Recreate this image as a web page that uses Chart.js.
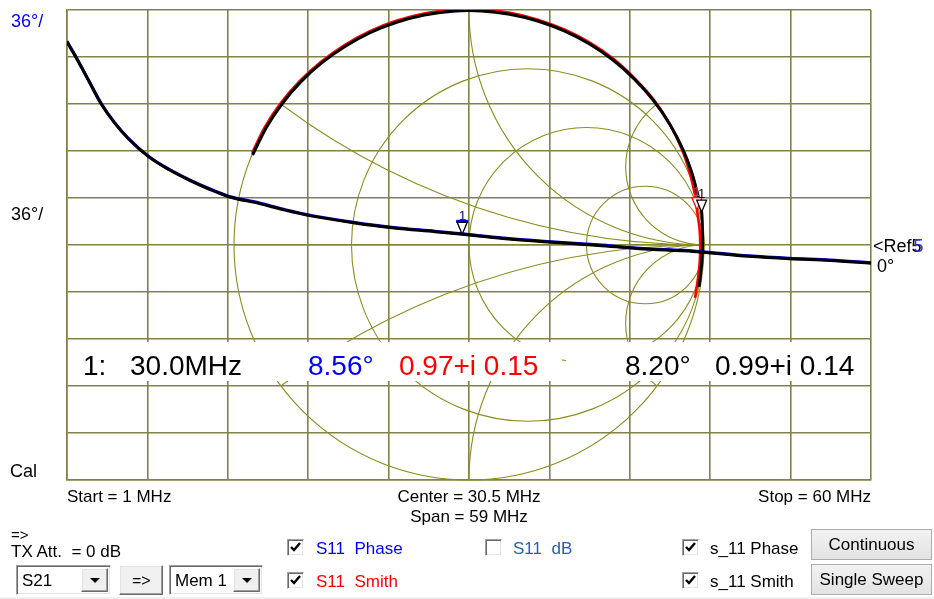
<!DOCTYPE html>
<html>
<head>
<meta charset="utf-8">
<script src="https://cdn.jsdelivr.net/npm/chart.js@4.4.1/dist/chart.umd.min.js"></script>
<style>
  html, body { margin: 0; padding: 0; background: #fff; }
  body { width: 934px; height: 599px; position: relative; overflow: hidden;
         font-family: "Liberation Sans", Arial, sans-serif; }
  #plot { position: absolute; left: 0; top: 0; }
  .t { position: absolute; font-size: 17px; line-height: 17px; white-space: pre; color: #000; }
  .sunken { position: absolute; box-sizing: border-box; background: #fff;
            border: 1px solid; border-color: #a0a0a0 #fff #fff #a0a0a0;
            box-shadow: inset 1px 1px 0 #696969, inset -1px -1px 0 #e3e3e3; }
  .raised { position: absolute; box-sizing: border-box; background: #f0f0f0;
            border: 1px solid; border-color: #fff #696969 #696969 #fff;
            box-shadow: inset -1px -1px 0 #a0a0a0, inset 1px 1px 0 #e3e3e3; }
  .arrow { position: absolute; left: 50%; top: 50%; margin-left: -5px; margin-top: -2px; width: 0; height: 0;
           border-left: 5px solid transparent; border-right: 5px solid transparent; border-top: 5px solid #000; }
  .cb { position: absolute; width: 17px; height: 17px; }
  .btn { position: absolute; box-sizing: border-box; border: 1px solid #adadad;
         background: linear-gradient(#f2f2f2, #e3e3e3); font-size: 17px; line-height: 17px;
         text-align: center; color: #000; }
</style>
</head>
<body>
<canvas id="plot" width="934" height="599"></canvas>

<!-- control strip under the plot -->
<div class="t" style="left:11px;top:526px;font-size:15px">=&gt;</div>
<div class="t" style="left:11px;top:543px">TX Att.  = 0 dB</div>

<div class="sunken" style="left:16px;top:565px;width:95px;height:30px">
  <div class="t" style="left:5px;top:6px">S21</div>
  <div class="raised" style="left:64px;top:2px;width:27px;height:24px"><div class="arrow"></div></div>
</div>
<div class="raised" style="left:119px;top:565px;width:44px;height:30px">
  <div class="t" style="left:12px;top:6px;font-size:16px">=&gt;</div>
</div>
<div class="sunken" style="left:169px;top:565px;width:94px;height:30px">
  <div class="t" style="left:5px;top:6px">Mem 1</div>
  <div class="raised" style="left:63px;top:2px;width:27px;height:24px"><div class="arrow"></div></div>
</div>

<div class="sunken cb" style="left:287px;top:539px">
  <svg width="15" height="15" style="position:absolute;left:0;top:0"><path d="M3 7 L6 10 L12 3" stroke="#000" stroke-width="2.4" fill="none"/></svg>
</div>
<div class="t" style="left:316px;top:540px;color:#0000ff">S11  Phase</div>
<div class="sunken cb" style="left:287px;top:572px">
  <svg width="15" height="15" style="position:absolute;left:0;top:0"><path d="M3 7 L6 10 L12 3" stroke="#000" stroke-width="2.4" fill="none"/></svg>
</div>
<div class="t" style="left:316px;top:573px;color:#ff0000">S11  Smith</div>

<div class="sunken cb" style="left:485px;top:539px"></div>
<div class="t" style="left:513px;top:540px;color:#2a5db0">S11  dB</div>

<div class="sunken cb" style="left:682px;top:539px">
  <svg width="15" height="15" style="position:absolute;left:0;top:0"><path d="M3 7 L6 10 L12 3" stroke="#000" stroke-width="2.4" fill="none"/></svg>
</div>
<div class="t" style="left:710px;top:540px">s_11 Phase</div>
<div class="sunken cb" style="left:682px;top:572px">
  <svg width="15" height="15" style="position:absolute;left:0;top:0"><path d="M3 7 L6 10 L12 3" stroke="#000" stroke-width="2.4" fill="none"/></svg>
</div>
<div class="t" style="left:710px;top:573px">s_11 Smith</div>

<div class="btn" style="left:811px;top:529px;width:121px;height:31px;padding-top:6px">Continuous</div>
<div class="btn" style="left:811px;top:564px;width:121px;height:31px;padding-top:6px">Single Sweep</div>
<div style="position:absolute;left:0;top:597px;width:934px;height:2px;background:#f0f0f0"></div>

<script>
// Sweep: 1 MHz .. 60 MHz, linear
const startMHz = 1;
const stopMHz = 60;

// Phase traces (degrees), live S11 and stored memory s_11
const freqMHz     = [1, 1.5, 2.5, 3.5, 4.5, 5.5, 7, 8.5, 10, 11.5, 13, 15, 17, 19, 22, 25, 28, 30, 33, 36, 40, 43, 47, 51, 54, 57, 60];
const s11PhaseDeg = [156, 147, 128, 108.6, 93.7, 81.8, 67.9, 58, 49.9, 42.9, 37, 32.5, 27.1, 22.5, 17.5, 13.4, 10.6, 8.56, 5.4, 2.9, 0.1, -2.5, -4.6, -8.3, -10.2, -11.5, -13.6];
const memPhaseDeg = [155.7, 146.6, 127.6, 108.2, 93.3, 81.4, 67.5, 57.6, 49.5, 42.5, 36.6, 32.1, 26.7, 22.1, 17.1, 13.0, 10.2, 8.20, 5.0, 2.5, -0.3, -2.8, -4.9, -8.6, -10.5, -11.8, -13.9];

// Smith traces (reflection coefficient, real / imaginary), in sweep order
const s11SmithRe = [-0.923, -0.869, -0.801, -0.721, -0.631, -0.531, -0.424, -0.310, -0.191, -0.070, 0.052, 0.174, 0.293, 0.408, 0.516, 0.617, 0.707, 0.788, 0.855, 0.907, 0.940, 0.963, 0.970, 0.981, 0.984, 0.982, 0.975, 0.962];
const s11SmithIm = [0.392, 0.502, 0.604, 0.697, 0.779, 0.850, 0.909, 0.954, 0.985, 1.000, 1.001, 0.988, 0.959, 0.916, 0.860, 0.790, 0.707, 0.616, 0.513, 0.404, 0.305, 0.205, 0.150, 0.069, 0.000, -0.069, -0.137, -0.225];
const memSmithRe = [-0.921, -0.863, -0.796, -0.717, -0.627, -0.528, -0.421, -0.308, -0.190, -0.070, 0.052, 0.173, 0.292, 0.405, 0.513, 0.614, 0.705, 0.786, 0.855, 0.911, 0.948, 0.975, 0.990, 0.993, 0.994, 0.991, 0.984, 0.979];
const memSmithIm = [0.383, 0.499, 0.600, 0.693, 0.775, 0.845, 0.904, 0.948, 0.979, 0.995, 0.996, 0.982, 0.953, 0.911, 0.855, 0.786, 0.705, 0.614, 0.513, 0.405, 0.308, 0.207, 0.140, 0.069, 0.000, -0.069, -0.138, -0.178];

// Marker 1 readout
const markerFreqMHz = [30.0];
const markerS11Phase = [8.56];
const markerMemPhase = [8.20];
const markerS11Re = [0.97];
const markerS11Im = [0.15];
const markerMemRe = [0.99];
const markerMemIm = [0.14];

// Phase scale: 36 deg per division, reference 0 deg at division 5
const degPerDiv = 36;
const refDiv = 5;
const refDeg = 0;
const divisions = 10;

// Smith chart grid: constant resistance and reactance circles
const smithR = [0, 1 / 3, 1, 3];
const smithX = [1 / 3, 1, 3];

const gridColor = 'rgb(130,130,72)';
const smithColor = 'rgb(140,140,30)';
const FONT = '"Liberation Sans", Arial, sans-serif';

const phaseMin = refDeg - refDiv * degPerDiv;
const phaseMax = refDeg + (divisions - refDiv) * degPerDiv;
const smithHalfWidth = 804 / 470;

const pts = (xs, ys) => xs.map((x, i) => ({ x, y: ys[i] }));

function fmt2(v) { return v.toFixed(2); }

function triangle(ctx, x, y, color, topBar) {
  ctx.save();
  ctx.beginPath();
  ctx.moveTo(x, y);
  ctx.lineTo(x - 5, y - 12);
  ctx.lineTo(x + 5, y - 12);
  ctx.closePath();
  ctx.fillStyle = '#fff';
  ctx.fill();
  ctx.lineWidth = 1.2;
  ctx.strokeStyle = color;
  ctx.stroke();
  if (topBar) {
    ctx.fillStyle = color;
    ctx.fillRect(x - 6, y - 14, 12, 3);
  }
  ctx.restore();
}

function markerLabel(ctx, x, y, color) {
  ctx.save();
  ctx.font = '13px ' + FONT;
  ctx.fillStyle = color;
  ctx.textAlign = 'center';
  ctx.textBaseline = 'alphabetic';
  ctx.fillText('1', x, y - 14);
  ctx.restore();
}

const smithGrid = {
  id: 'smithGrid',
  beforeDatasetsDraw(chart) {
    const { ctx, chartArea: a, scales } = chart;
    const sx = scales.x2, sy = scales.y2;
    const cx = sx.getPixelForValue(0), cy = sy.getPixelForValue(0);
    const R = sx.getPixelForValue(1) - cx;
    ctx.save();
    ctx.strokeStyle = smithColor;
    ctx.lineWidth = 1.1;
    smithR.forEach(r => {
      ctx.beginPath();
      ctx.arc(sx.getPixelForValue(r / (1 + r)), cy, R / (1 + r), 0, 2 * Math.PI);
      ctx.stroke();
    });
    ctx.beginPath();
    ctx.arc(cx, cy, R, 0, 2 * Math.PI);
    ctx.clip();
    smithX.forEach(xv => [xv, -xv].forEach(v => {
      ctx.beginPath();
      ctx.arc(sx.getPixelForValue(1), sy.getPixelForValue(1 / v), R / xv, 0, 2 * Math.PI);
      ctx.stroke();
    }));
    ctx.beginPath();
    ctx.moveTo(cx - R, cy);
    ctx.lineTo(cx + R, cy);
    ctx.stroke();
    ctx.restore();

    // readout band
    ctx.save();
    ctx.fillStyle = '#fff';
    ctx.fillRect(a.left + 1, a.top + 332, 494, 39);
    ctx.fillRect(a.left + 499, a.top + 332, a.width - 500, 39);
    ctx.restore();
  },
  afterDatasetsDraw(chart) {
    const { ctx, chartArea: a, scales } = chart;
    const { x, y, x2, y2 } = scales;

    // markers on phase traces
    const mx = x.getPixelForValue(markerFreqMHz[0]);
    triangle(ctx, mx, y.getPixelForValue(markerS11Phase[0]), '#0000ff', true);
    triangle(ctx, mx, y.getPixelForValue(markerMemPhase[0]), '#000', false);
    markerLabel(ctx, mx, y.getPixelForValue(markerS11Phase[0]), '#e07070');
    markerLabel(ctx, mx + 0.5, y.getPixelForValue(markerS11Phase[0]), '#1a2a9a');

    // markers on Smith traces
    const rx = x2.getPixelForValue(markerS11Re[0]), ry = y2.getPixelForValue(markerS11Im[0]);
    const bx = x2.getPixelForValue(markerMemRe[0]), by = y2.getPixelForValue(markerMemIm[0]);
    triangle(ctx, rx, ry, '#ff0000', false);
    markerLabel(ctx, rx, ry, '#ff4040');
    triangle(ctx, bx, by, '#000', false);
    markerLabel(ctx, bx, by, '#000');

    // readout text
    ctx.save();
    ctx.font = '28px ' + FONT;
    ctx.textBaseline = 'alphabetic';
    const base = a.top + 365;
    ctx.fillStyle = '#000';
    ctx.fillText('1:', a.left + 16, base);
    ctx.fillText(markerFreqMHz[0].toFixed(1) + 'MHz', a.left + 63, base);
    ctx.fillStyle = '#0000ff';
    ctx.fillText(fmt2(markerS11Phase[0]) + '°', a.left + 241, base);
    ctx.fillStyle = '#ff0000';
    ctx.fillText(fmt2(markerS11Re[0]) + '+i ' + fmt2(markerS11Im[0]), a.left + 332, base);
    ctx.fillStyle = '#000';
    ctx.fillText(fmt2(markerMemPhase[0]) + '°', a.left + 558, base);
    ctx.fillText(fmt2(markerMemRe[0]) + '+i ' + fmt2(markerMemIm[0]), a.left + 648, base);
    ctx.restore();

    // scale annotations
    ctx.save();
    ctx.font = '18px ' + FONT;
    ctx.textBaseline = 'alphabetic';
    ctx.fillStyle = '#0000ff';
    ctx.fillText(degPerDiv + '°/', 11, a.top + 17);
    ctx.fillStyle = '#000';
    ctx.fillText(degPerDiv + '°/', 11, a.top + 210);
    ctx.fillText('Cal', 10, a.bottom - 3);
    const refY = y.getPixelForValue(refDeg);
    ctx.fillText('<Ref' + refDiv, a.right + 2, refY + 7);
    ctx.fillStyle = '#3030ff';
    ctx.fillText(String(refDiv), a.right + 2 + ctx.measureText('<Ref').width + 2, refY + 7);
    ctx.fillStyle = '#000';
    ctx.fillText(refDeg + '°', a.right + 6, refY + 27);

    ctx.font = '17px ' + FONT;
    ctx.fillText('Start = ' + startMHz + ' MHz', a.left, a.bottom + 22);
    ctx.textAlign = 'center';
    const mid = (a.left + a.right) / 2;
    ctx.fillText('Center = ' + ((startMHz + stopMHz) / 2).toFixed(1) + ' MHz', mid, a.bottom + 22);
    ctx.fillText('Span = ' + (stopMHz - startMHz) + ' MHz', mid, a.bottom + 42);
    ctx.textAlign = 'right';
    ctx.fillText('Stop = ' + stopMHz + ' MHz', a.right, a.bottom + 22);
    ctx.restore();
  }
};

const gridOpts = { color: gridColor, lineWidth: 1.6, drawTicks: false };
const borderOpts = { color: gridColor, width: 1.6 };

new Chart(document.getElementById('plot'), {
  type: 'scatter',
  data: {
    datasets: [
      { label: 's_11 Phase', data: pts(freqMHz, memPhaseDeg), xAxisID: 'x', yAxisID: 'y',
        showLine: true, borderColor: '#000', borderWidth: 3, pointRadius: 0,
        cubicInterpolationMode: 'monotone', order: 1 },
      { label: 'S11 Phase', data: pts(freqMHz, s11PhaseDeg), xAxisID: 'x', yAxisID: 'y',
        showLine: true, borderColor: '#0000ff', borderWidth: 3, pointRadius: 0,
        cubicInterpolationMode: 'monotone', order: 2 },
      { label: 's_11 Smith', data: pts(memSmithRe, memSmithIm), xAxisID: 'x2', yAxisID: 'y2',
        showLine: true, borderColor: '#000', borderWidth: 3, pointRadius: 0, tension: 0.3, order: 1 },
      { label: 'S11 Smith', data: pts(s11SmithRe, s11SmithIm), xAxisID: 'x2', yAxisID: 'y2',
        showLine: true, borderColor: '#ff0000', borderWidth: 2.6, pointRadius: 0, tension: 0.3, order: 2 }
    ]
  },
  options: {
    responsive: false,
    animation: false,
    events: [],
    layout: { padding: { left: 67, top: 10, right: 63, bottom: 119 } },
    plugins: { legend: { display: false }, tooltip: { enabled: false } },
    scales: {
      x: {
        type: 'linear', min: startMHz, max: stopMHz,
        afterBuildTicks: s => {
          s.ticks = Array.from({ length: divisions + 1 }, (_, i) => ({ value: startMHz + i * (stopMHz - startMHz) / divisions }));
        },
        ticks: { display: false }, grid: gridOpts, border: borderOpts
      },
      y: {
        type: 'linear', min: phaseMin, max: phaseMax,
        ticks: { display: false, stepSize: degPerDiv }, grid: gridOpts, border: borderOpts
      },
      x2: { type: 'linear', display: false, min: -smithHalfWidth, max: smithHalfWidth },
      y2: { type: 'linear', display: false, min: -1, max: 1 }
    }
  },
  plugins: [smithGrid]
});
</script>
</body>
</html>
